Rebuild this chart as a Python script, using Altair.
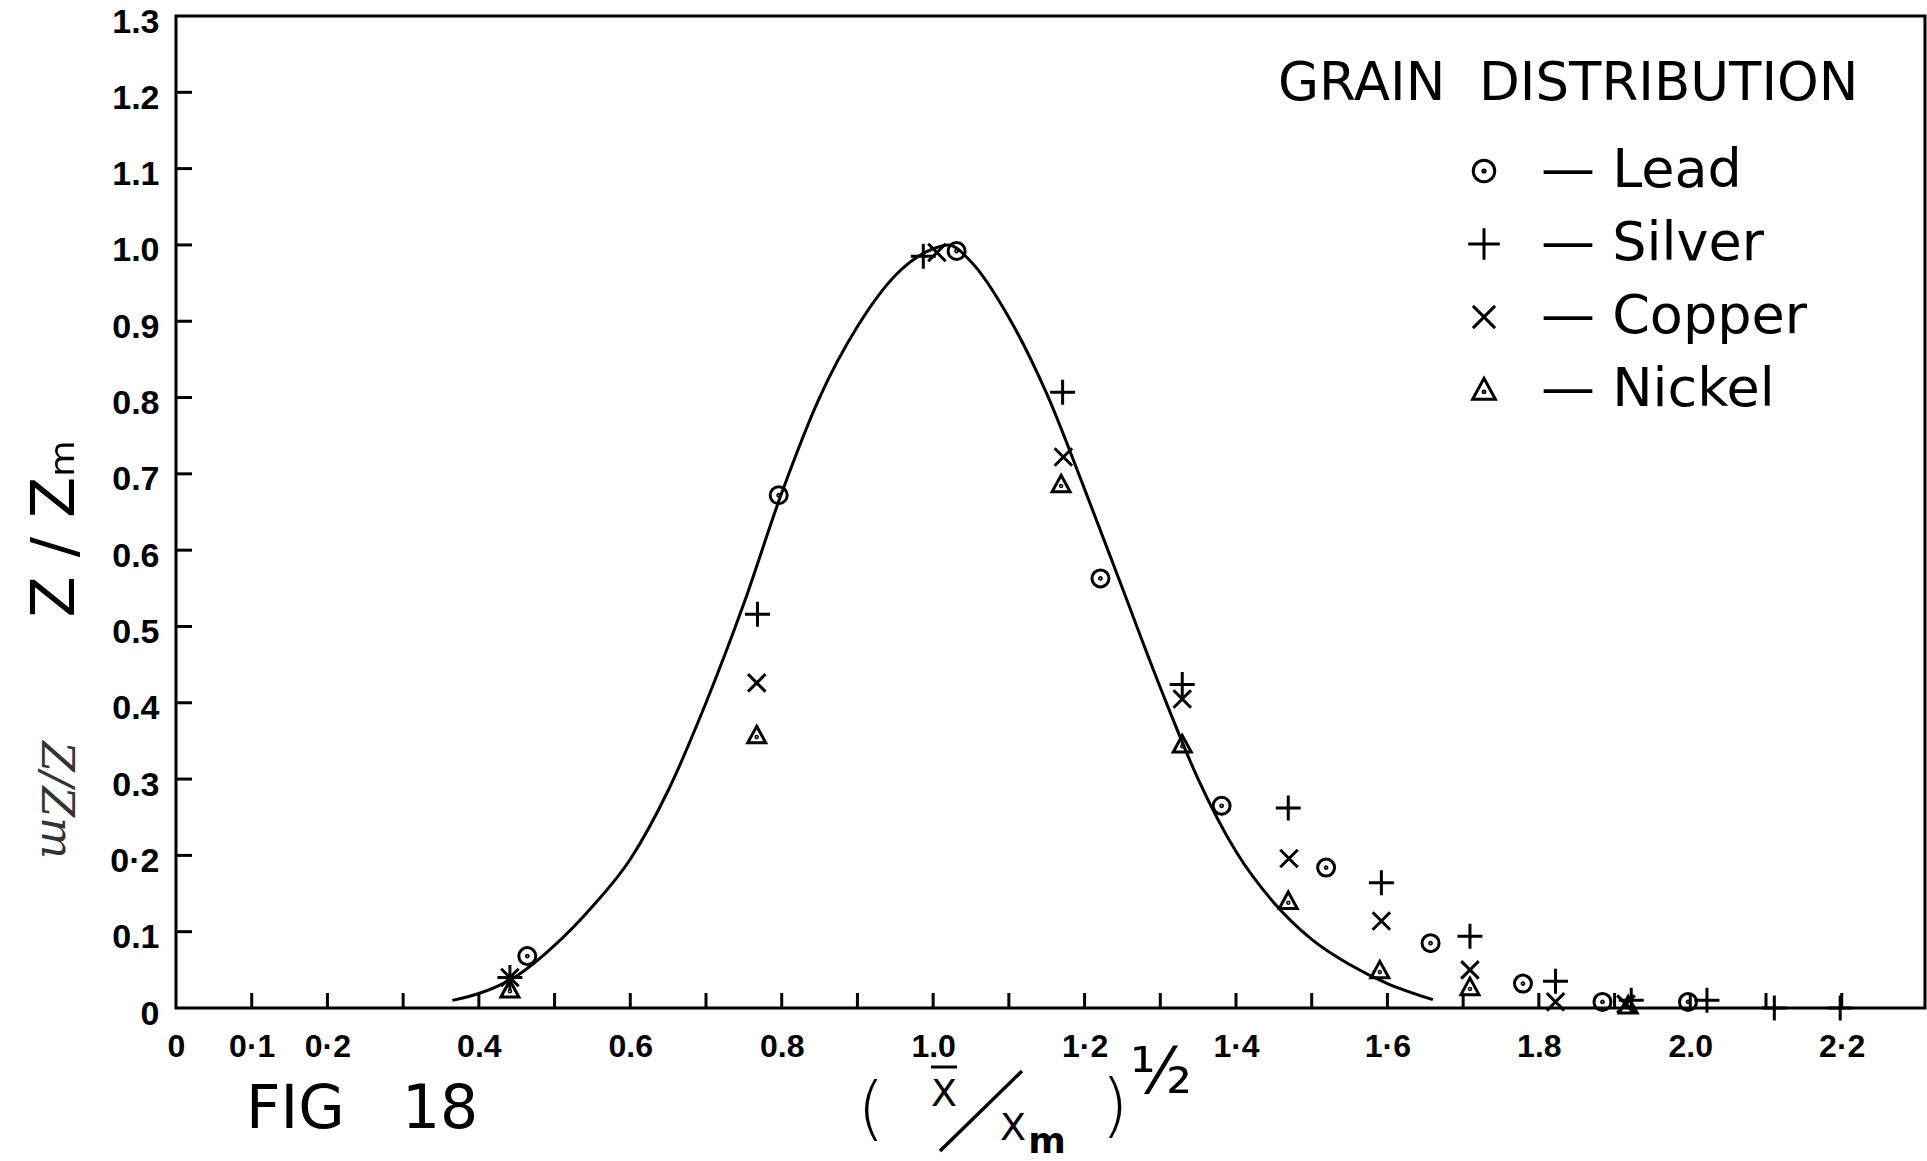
import altair as alt
import pandas as pd

# ---------------- data ----------------
metals = ["Lead", "Silver", "Copper", "Nickel"]

lead_x = [0.464, 0.796, 1.031, 1.221, 1.381, 1.519, 1.657, 1.779, 1.884, 1.997]
lead_y = [0.068, 0.672, 0.992, 0.563, 0.265, 0.184, 0.085, 0.032, 0.008, 0.008]

silver_x = [0.441, 0.768, 0.987, 1.171, 1.329, 1.469, 1.592, 1.709, 1.822, 1.922, 2.022, 2.111, 2.198]
silver_y = [0.040, 0.516, 0.985, 0.807, 0.424, 0.262, 0.164, 0.094, 0.035, 0.010, 0.010, 0.0, 0.0]

copper_x = [0.441, 0.767, 1.005, 1.172, 1.329, 1.470, 1.592, 1.709, 1.822, 1.915]
copper_y = [0.040, 0.426, 0.990, 0.722, 0.405, 0.196, 0.114, 0.050, 0.008, 0.005]

nickel_x = [0.441, 0.767, 1.169, 1.329, 1.469, 1.590, 1.709, 1.918]
nickel_y = [0.024, 0.357, 0.686, 0.345, 0.140, 0.049, 0.027, 0.003]

curve_x = [0.365, 0.40, 0.45, 0.50, 0.55, 0.60, 0.65, 0.70, 0.75, 0.80, 0.85, 0.90,
           0.95, 1.00, 1.02, 1.05, 1.10, 1.15, 1.20, 1.25, 1.30, 1.35, 1.40, 1.45,
           1.50, 1.55, 1.60, 1.66]
curve_y = [0.010, 0.019, 0.042, 0.082, 0.133, 0.195, 0.285, 0.400, 0.530, 0.675, 0.800, 0.893,
           0.960, 0.995, 1.000, 0.978, 0.905, 0.805, 0.680, 0.550, 0.420, 0.300, 0.205, 0.138,
           0.090, 0.057, 0.032, 0.011]

x_tick_values = [0, 0.1, 0.2, 0.4, 0.6, 0.8, 1.0, 1.2, 1.4, 1.6, 1.8, 2.0, 2.2]
x_tick_labels = ["0", "0·1", "0·2", "0.4", "0.6", "0.8", "1.0", "1·2", "1·4", "1·6", "1.8", "2.0", "2·2"]
x_minor_ticks = [0.1, 0.2, 0.3, 0.4, 0.5, 0.6, 0.7, 0.8, 0.9, 1.0, 1.1, 1.2, 1.3, 1.4,
                 1.5, 1.6, 1.7, 1.8, 1.9, 2.0, 2.1, 2.2]

y_tick_values = [0, 0.1, 0.2, 0.3, 0.4, 0.5, 0.6, 0.7, 0.8, 0.9, 1.0, 1.1, 1.2, 1.3]
y_tick_labels = ["0", "0.1", "0·2", "0.3", "0.4", "0.5", "0.6", "0.7", "0.8", "0.9", "1.0", "1.1", "1.2", "1.3"]
y_minor_ticks = [0.1, 0.2, 0.3, 0.4, 0.5, 0.6, 0.7, 0.8, 0.9, 1.0, 1.1, 1.2]

NB = "\u00a0"
legend_title = "GRAIN" + NB * 2 + "DISTRIBUTION"
fig_label = "FIG" + NB * 3 + "18"
pencil_note = "Z/Zm"
y_title = "Z / Zₘ"
# x-axis title, hand-lettered as a stacked fraction:  ( X̄ / Xm )^½
x_title_parts = ["(", "X", "X", "m", ")", "½"]

# ---------------- tables ----------------
rows = []
for m, xs, ys in [("Lead", lead_x, lead_y), ("Silver", silver_x, silver_y),
                  ("Copper", copper_x, copper_y), ("Nickel", nickel_x, nickel_y)]:
    for a, b in zip(xs, ys):
        rows.append({"metal": m, "r": a, "z": b})
pts = pd.DataFrame(rows)
curve = pd.DataFrame({"r": curve_x, "z": curve_y})

OX, OY = 176, 16          # plot origin inside the page
W, H = 1749, 992
FONT = "DejaVu Sans"
NUMFONT = "Liberation Sans"

shape_paths = [
    "M0.68,0A0.68,0.68,0,1,1,-0.68,0A0.68,0.68,0,1,1,0.68,0ZM0.07,0A0.07,0.07,0,1,1,-0.07,0A0.07,0.07,0,1,1,0.07,0Z",
    "M-1,0L1,0M0,-1L0,1",
    "M-0.7,-0.7L0.7,0.7M-0.7,0.7L0.7,-0.7",
    "M0,-0.74L0.72,0.58L-0.72,0.58ZM0.06,0.12A0.06,0.06,0,1,1,-0.06,0.12A0.06,0.06,0,1,1,0.06,0.12Z",
]

def js_list(vals):
    return "[" + ",".join(repr(v) for v in vals) + "]"

def js_str_list(vals):
    return "[" + ",".join("'" + v + "'" for v in vals) + "]"

x_label_expr = f"{js_str_list(x_tick_labels)}[indexof({js_list(x_tick_values)}, datum.value)]"
y_label_expr = f"{js_str_list(y_tick_labels)}[indexof({js_list(y_tick_values)}, datum.value)]"

x_scale = alt.Scale(domain=[0, 2.31], nice=False, zero=False)
y_scale = alt.Scale(domain=[0, 1.3], nice=False, zero=False)

x_axis = alt.Axis(values=x_tick_values, labelExpr=x_label_expr, ticks=False, domain=False, grid=False,
                  labelFont=NUMFONT, labelFontWeight="bold", labelFontSize=32, labelPadding=23,
                  labelColor="black", labelFlush=False, labelOverlap=False, title=None)
y_axis = alt.Axis(values=y_tick_values, labelExpr=y_label_expr, ticks=False, domain=False, grid=False,
                  labelFont=NUMFONT, labelFontWeight="bold", labelFontSize=34, labelPadding=17,
                  labelOffset=6, labelColor="black", labelFlush=False, labelOverlap=False,
                  title=y_title, titleFont=FONT, titleFontSize=60, titleFontWeight="normal",
                  titleColor="black", titleX=-121, titleY=512, titleAngle=270,
                  titleAlign="center", titleBaseline="middle")

X = alt.X("r:Q", scale=x_scale, axis=x_axis)
Y = alt.Y("z:Q", scale=y_scale, axis=y_axis)

line = alt.Chart(curve).mark_line(color="black", strokeWidth=3, interpolate="monotone").encode(x=X, y=Y)

points = alt.Chart(pts).mark_point(filled=False, size=625, strokeWidth=3, opacity=1, color="black").encode(
    x=X, y=Y,
    shape=alt.Shape("metal:N", scale=alt.Scale(domain=metals, range=shape_paths),
                    legend=alt.Legend(title=None, orient="none", legendX=1281, legendY=128,
                                      labelExpr="'— ' + datum.label", labelFont=FONT, labelFontSize=54,
                                      labelColor="black", labelOffset=30, rowPadding=19, padding=0,
                                      symbolSize=1000, symbolStrokeWidth=3, symbolStrokeColor="black",
                                      symbolFillColor="transparent", labelLimit=400)),
)

# inward tick marks, positioned through the shared scales
xt = alt.Chart(pd.DataFrame({"r": x_minor_ticks})).mark_rule(color="black", strokeWidth=3).encode(
    x=X, y=alt.value(H), y2=alt.value(H - 15),
)
yt = alt.Chart(pd.DataFrame({"z": y_minor_ticks})).mark_rule(color="black", strokeWidth=3).encode(
    y=Y, x=alt.value(0), x2=alt.value(16),
)


def label(text, px, py, size, align="center", baseline="middle", weight="normal", angle=0,
          font=FONT, color="black", style="normal"):
    """A piece of lettering placed at page pixel (px, py)."""
    kw = dict(font=font, fontSize=size, fontWeight=weight, align=align, baseline=baseline,
              color=color, fontStyle=style)
    if angle:
        kw["angle"] = angle
    return alt.Chart(pd.DataFrame({"t": [text]})).mark_text(**kw).encode(
        text="t:N", x=alt.value(px - OX), y=alt.value(py - OY))


def stroke(x1, y1, x2, y2, width=3):
    """A pen stroke of the hand lettering (fraction bar / overbar), in page pixels."""
    return alt.Chart(pd.DataFrame({"k": [0]})).mark_rule(color="black", strokeWidth=width).encode(
        x=alt.value(x1 - OX), y=alt.value(y1 - OY), x2=alt.value(x2 - OX), y2=alt.value(y2 - OY))


texts = [
    label(legend_title, 1278, 84, 53, align="left"),
    label(fig_label, 246, 1110, 60, align="left"),
    label(pencil_note, 55, 800, 44, angle=90, font="DejaVu Serif", style="italic", color="#333333"),
    # ( X̄ / Xm )½
    label(x_title_parts[0], 871, 1111, 70, weight=200),
    label(x_title_parts[1], 944, 1106, 38, baseline="alphabetic"),
    stroke(931, 1067, 957, 1067, 3),
    stroke(940, 1151, 1022, 1071, 3.5),
    label(x_title_parts[2], 1013, 1140, 38, baseline="alphabetic"),
    label(x_title_parts[3], 1047, 1153, 36, baseline="alphabetic", weight="bold"),
    label(x_title_parts[4], 1115, 1108, 70, weight=200),
    label(x_title_parts[5], 1161, 1074, 64),
]

chart = alt.layer(line, points, xt, yt, *texts).properties(
    width=W, height=H,
    autosize=alt.AutoSizeParams(type="none"),
    padding={"left": OX, "top": OY, "right": 2, "bottom": 153},
    background="white",
).configure_view(stroke="black", strokeWidth=3)

chart.save("out.html", embed_options={"renderer": "svg", "actions": False})
